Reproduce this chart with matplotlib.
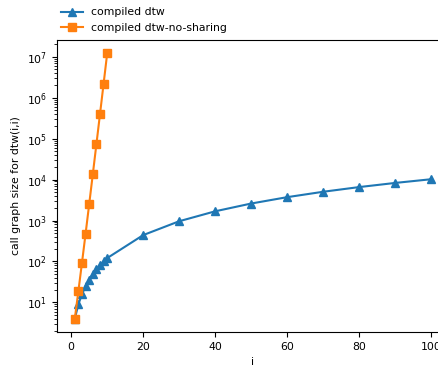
import matplotlib
matplotlib.use('Agg')
import matplotlib.pyplot as plt

plt.rcParams['font.size'] = 7.8

# data
i_share = [1, 2, 3, 4, 5, 6, 7, 8, 9, 10, 20, 30, 40, 50, 60, 70, 80, 90, 100]
size_share = [4, 9, 16, 25, 36, 49, 64, 81, 100, 121,
              441, 961, 1681, 2601, 3721, 5041, 6561, 8281, 10201]

i_noshare = [1, 2, 3, 4, 5, 6, 7, 8, 9, 10]
size_noshare = [4, 19, 94, 481, 2524, 13483, 72958, 398593, 2193844, 12146179]

fig = plt.figure(figsize=(4.39, 3.67), dpi=100)
ax = fig.add_axes([0.1298, 0.0954, 0.893, 0.7956])

ax.plot(i_share, size_share, marker='^', label='compiled dtw')
ax.plot(i_noshare, size_noshare, marker='s', label='compiled dtw-no-sharing')
ax.set_yscale('log')
ax.set_xlabel('i')
ax.set_ylabel('call graph size for dtw(i,i)')

fig.legend(loc='lower left', bbox_to_anchor=(0.117, 0.884), frameon=False)

fig.savefig('out.png', dpi=100)
